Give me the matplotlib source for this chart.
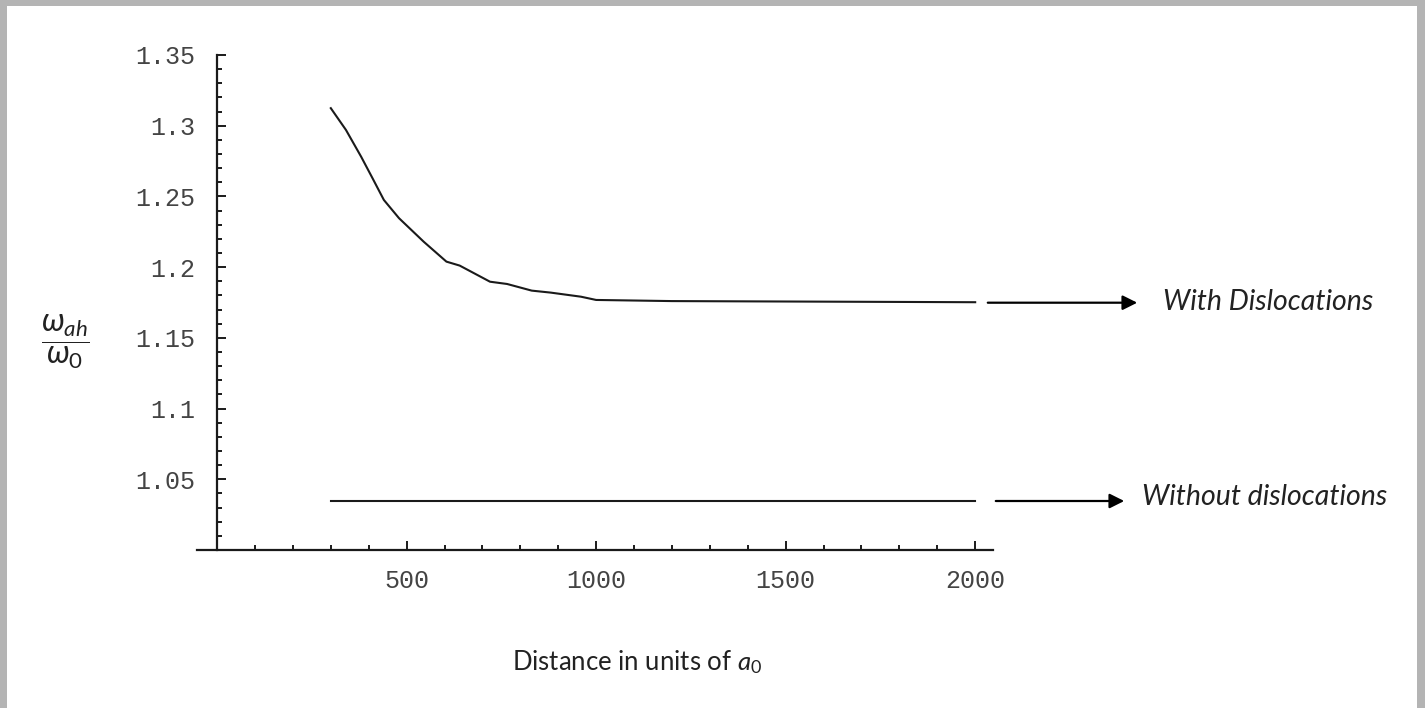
import matplotlib
matplotlib.use('Agg')
import matplotlib.pyplot as plt
from matplotlib.ticker import MultipleLocator, FixedLocator
from matplotlib.patches import Rectangle, FancyArrowPatch

# data
dist_with = [300, 340, 380, 410, 440, 480, 545, 605, 640, 720, 765, 830, 880, 960, 1000, 1200, 2000]
ratio_with = [1.3124, 1.2970, 1.2781, 1.2629, 1.2475, 1.2346, 1.2180, 1.2039, 1.2011,
              1.1897, 1.1881, 1.1834, 1.1820, 1.1791, 1.1768, 1.1760, 1.1752]
dist_without = [300, 2000]
ratio_without = [1.035, 1.035]

x_ticks = [500, 1000, 1500, 2000]
y_ticks = [1.05, 1.1, 1.15, 1.2, 1.25, 1.3, 1.35]
y_tick_labels = ['1.05', '1.1', '1.15', '1.2', '1.25', '1.3', '1.35']

label_with = 'With Dislocations'
label_without = 'Without dislocations'

plt.rcParams['mathtext.fontset'] = 'custom'
plt.rcParams['mathtext.rm'] = 'Lato'
plt.rcParams['mathtext.it'] = 'Lato:italic'

W, H = 1425, 708
fig = plt.figure(figsize=(W / 100, H / 100), dpi=100)
fig.patch.set_facecolor('white')

# gray slide border
grey = '#b4b4b4'
for (x0, y0, w, h) in [(0, 0, 7, H), (0, H - 6, W, 6), (W - 8, 0, 8, H)]:
    fig.patches.append(Rectangle((x0 / W, y0 / H), w / W, h / H, transform=fig.transFigure,
                                 facecolor=grey, edgecolor='none', zorder=0))

x_left, x_right = -53, 2047
ax = fig.add_axes([197 / W, (H - 550) / H, (993 - 197) / W, 495 / H])
ax.set_facecolor('none')
ax.plot(dist_with, ratio_with, color='#1a1a1a', lw=1.5)
ax.plot(dist_without, ratio_without, color='#1a1a1a', lw=1.5)

ax.set_xlim(x_left, x_right)
ax.set_ylim(1.0, 1.35)
for s in ['top', 'right']:
    ax.spines[s].set_visible(False)
ax.spines['left'].set_position(('data', 0))
for s in ['left', 'bottom']:
    ax.spines[s].set_linewidth(1.6)
    ax.spines[s].set_color('#1a1a1a')

ax.xaxis.set_major_locator(FixedLocator(x_ticks))
ax.xaxis.set_minor_locator(MultipleLocator(100))
ax.yaxis.set_major_locator(FixedLocator(y_ticks))
ax.set_yticklabels(y_tick_labels)
ax.yaxis.set_minor_locator(MultipleLocator(0.01))
ax.tick_params(which='both', direction='in', color='#1a1a1a', width=1.4)
ax.tick_params(which='major', length=6.5)
ax.tick_params(which='minor', length=3.6)
ax.tick_params(axis='y', pad=16)
ax.tick_params(axis='x', pad=14)
for lab in ax.get_xticklabels() + ax.get_yticklabels():
    lab.set_fontfamily('Liberation Mono')
    lab.set_fontsize(18)
    lab.set_color('#444444')

# axis titles
fig.text(512 / W, 1 - 662 / H, r'Distance in units of $a_0$', fontsize=18.5, family='Lato',
         color='#222222', ha='left', va='center')
fig.text(65 / W, 1 - 342 / H, r'$\dfrac{\omega_{ah}}{\omega_0}$', fontsize=23,
         color='#222222', ha='center', va='center')

# arrows and annotations
def arrow(x0, x1, y):
    fig.add_artist(FancyArrowPatch(
        (x0 / W, 1 - y / H), (x1 / W, 1 - y / H), transform=fig.transFigure,
        arrowstyle='-|>', mutation_scale=22, lw=1.6, color='black'))

arrow(985, 1140, 302.7)
arrow(993, 1127, 501)
fig.text(1163 / W, 1 - 302 / H, label_with, fontsize=20.5, family='Lato', style='italic',
         color='#222222', ha='left', va='center')
fig.text(1142 / W, 1 - 497 / H, label_without, fontsize=20.5, family='Lato', style='italic',
         color='#222222', ha='left', va='center')

fig.savefig('out.png', dpi=100)
